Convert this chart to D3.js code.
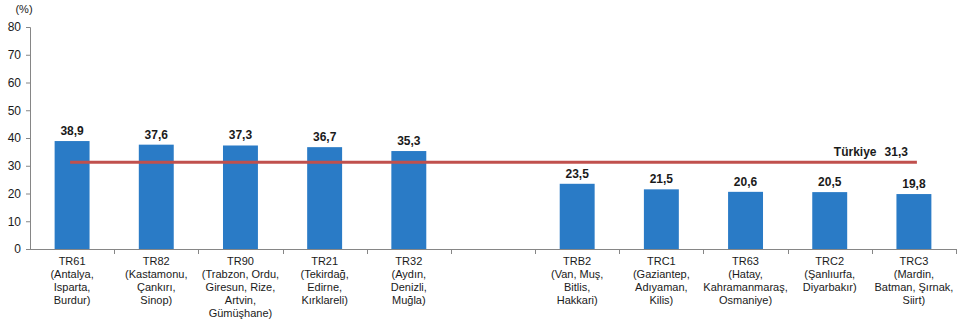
<!DOCTYPE html>
<html>
<head>
<meta charset="utf-8">
<script src="https://cdn.jsdelivr.net/npm/d3@7"></script>
<style>
  html, body { margin: 0; padding: 0; background: #fff; }
  svg { display: block; font-family: "Liberation Sans", Arial, sans-serif; }
</style>
</head>
<body>
<svg id="chart" width="964" height="323"></svg>
<script>
// Region codes (an empty slot separates the two groups)
const codes = ["TR61", "TR82", "TR90", "TR21", "TR32", "", "TRB2", "TRC1", "TR63", "TRC2", "TRC3"];
// Provinces in each region, one array entry per label line
const provinceLines = [
  ["(Antalya,", "Isparta,", "Burdur)"],
  ["(Kastamonu,", "Çankırı,", "Sinop)"],
  ["(Trabzon, Ordu,", "Giresun, Rize,", "Artvin,", "Gümüşhane)"],
  ["(Tekirdağ,", "Edirne,", "Kırklareli)"],
  ["(Aydın,", "Denizli,", "Muğla)"],
  [],
  ["(Van, Muş,", "Bitlis,", "Hakkari)"],
  ["(Gaziantep,", "Adıyaman,", "Kilis)"],
  ["(Hatay,", "Kahramanmaraş,", "Osmaniye)"],
  ["(Şanlıurfa,", "Diyarbakır)"],
  ["(Mardin,", "Batman, Şırnak,", "Siirt)"]
];
// Percentage per region (null for the separator slot)
const values = [38.9, 37.6, 37.3, 36.7, 35.3, null, 23.5, 21.5, 20.6, 20.5, 19.8];
// National average
const turkiyeLabel = "Türkiye";
const turkiyeValue = 31.3;
const yTicks = [0, 10, 20, 30, 40, 50, 60, 70, 80];

const fmt = v => d3.format(".1f")(v).replace(".", ",");

const svg = d3.select("#chart");
const margin = { left: 30, right: 8, top: 27, bottom: 74 };
const W = 964, H = 323;

const x = d3.scaleBand()
  .domain(d3.range(codes.length))
  .range([margin.left, W - margin.right])
  .paddingInner(0.585)
  .paddingOuter(0.2925);

const xGrid = d3.scaleBand()
  .domain(d3.range(codes.length))
  .range([margin.left, W - margin.right]);

const y = d3.scaleLinear().domain([0, 80]).range([H - margin.bottom, margin.top]);

const axisColor = "#868686";

// Bars
svg.append("g").selectAll("rect")
  .data(values.map((v, i) => ({ v, i })).filter(d => d.v !== null))
  .join("rect")
  .attr("x", d => x(d.i))
  .attr("width", x.bandwidth())
  .attr("y", d => y(d.v))
  .attr("height", d => y(0) - y(d.v))
  .attr("fill", "#2a7bc6");

// Value labels
svg.append("g").selectAll("text")
  .data(values.map((v, i) => ({ v, i })).filter(d => d.v !== null))
  .join("text")
  .attr("x", d => xGrid(d.i) + xGrid.bandwidth() / 2)
  .attr("y", d => y(d.v) - 6)
  .attr("text-anchor", "middle")
  .attr("font-size", 12)
  .attr("font-weight", "bold")
  .attr("fill", "#1a1a1a")
  .text(d => fmt(d.v));

// Y axis
const yAxis = svg.append("g")
  .attr("transform", `translate(${margin.left},0)`)
  .call(d3.axisLeft(y).tickValues(yTicks).tickSize(4).tickPadding(5).tickFormat(d3.format("d")));
yAxis.select(".domain").attr("stroke", axisColor);
yAxis.selectAll(".tick line").attr("stroke", axisColor);
yAxis.selectAll(".tick text").attr("font-size", 12).attr("fill", "#1a1a1a")
  .attr("font-family", "Liberation Sans, Arial, sans-serif");

// X axis baseline and band dividers
const base = y(0);
svg.append("line")
  .attr("x1", margin.left).attr("x2", W - margin.right)
  .attr("y1", base + 0.5).attr("y2", base + 0.5)
  .attr("stroke", axisColor);
svg.append("g").selectAll("line")
  .data(d3.range(1, codes.length + 1))
  .join("line")
  .attr("x1", i => Math.round(margin.left + i * xGrid.step()) + 0.5)
  .attr("x2", i => Math.round(margin.left + i * xGrid.step()) + 0.5)
  .attr("y1", base)
  .attr("y2", base + 5)
  .attr("stroke", axisColor);

// Category labels
const labels = svg.append("g").selectAll("text")
  .data(codes.map((c, i) => ({ c, i, lines: [c].concat(provinceLines[i]) })).filter(d => d.c))
  .join("text")
  .attr("text-anchor", "middle")
  .attr("font-size", 11)
  .attr("fill", "#1a1a1a");
labels.each(function (d) {
  const cx = xGrid(d.i) + xGrid.bandwidth() / 2;
  d3.select(this).selectAll("tspan")
    .data(d.lines)
    .join("tspan")
    .attr("x", cx)
    .attr("y", (l, k) => base + 16 + k * 13)
    .text(l => l);
});

// National average line
const first = 0, last = codes.length - 1;
svg.append("line")
  .attr("x1", xGrid(first) + xGrid.bandwidth() / 2 - 2)
  .attr("x2", xGrid(last) + xGrid.bandwidth() / 2 + 3)
  .attr("y1", y(turkiyeValue))
  .attr("y2", y(turkiyeValue))
  .attr("stroke", "#c0504d")
  .attr("stroke-width", 3);

const tl = svg.append("text")
  .attr("x", xGrid(last) + xGrid.bandwidth() / 2 - 6)
  .attr("y", y(turkiyeValue) - 6)
  .attr("text-anchor", "end")
  .attr("font-size", 12)
  .attr("font-weight", "bold")
  .attr("fill", "#1a1a1a");
tl.append("tspan").text(turkiyeLabel);
tl.append("tspan").attr("dx", 8).text(fmt(turkiyeValue));

// Unit label
svg.append("text")
  .attr("x", 24)
  .attr("y", 13)
  .attr("text-anchor", "middle")
  .attr("font-size", 11)
  .attr("fill", "#1a1a1a")
  .text("(%)");
</script>
</body>
</html>
